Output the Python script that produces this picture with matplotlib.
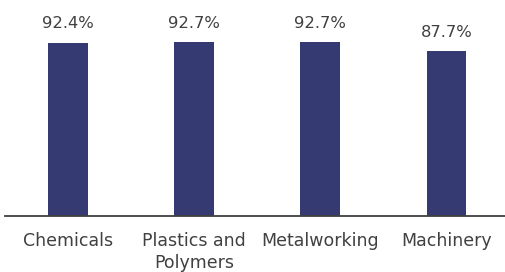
import matplotlib
matplotlib.use("Agg")
import matplotlib.pyplot as plt

categories = ["Chemicals", "Plastics and\nPolymers", "Metalworking", "Machinery"]
values = [92.4, 92.7, 92.7, 87.7]
value_labels = ["92.4%", "92.7%", "92.7%", "87.7%"]

bar_color = "#363a73"
text_color = "#404040"

plt.rcParams["font.family"] = ["DejaVu Sans"]

fig = plt.figure(figsize=(5.05, 2.72), dpi=100)
ax = fig.add_axes([5 / 505, 56 / 272, 500 / 505, 187.7 / 272])

x = list(range(len(categories)))
bars = ax.bar(x, values, width=0.315, color=bar_color)

for xi, v, lab in zip(x, values, value_labels):
    ax.annotate(lab, (xi, v), xytext=(0, 10.3), textcoords="offset points",
                ha="center", va="baseline", fontsize=11.8, color=text_color)

ax.set_xlim(-0.499, 3.464)
ax.set_ylim(0, 100)
ax.set_xticks(x)
ax.set_xticklabels(categories, fontsize=12.5, color=text_color, linespacing=1.3)
ax.tick_params(axis="x", length=0, pad=11.5)
ax.set_yticks([])
for side in ["top", "right", "left"]:
    ax.spines[side].set_visible(False)
ax.spines["bottom"].set_color("#404040")
ax.spines["bottom"].set_linewidth(1.3)

fig.savefig("out.png", dpi=100)
